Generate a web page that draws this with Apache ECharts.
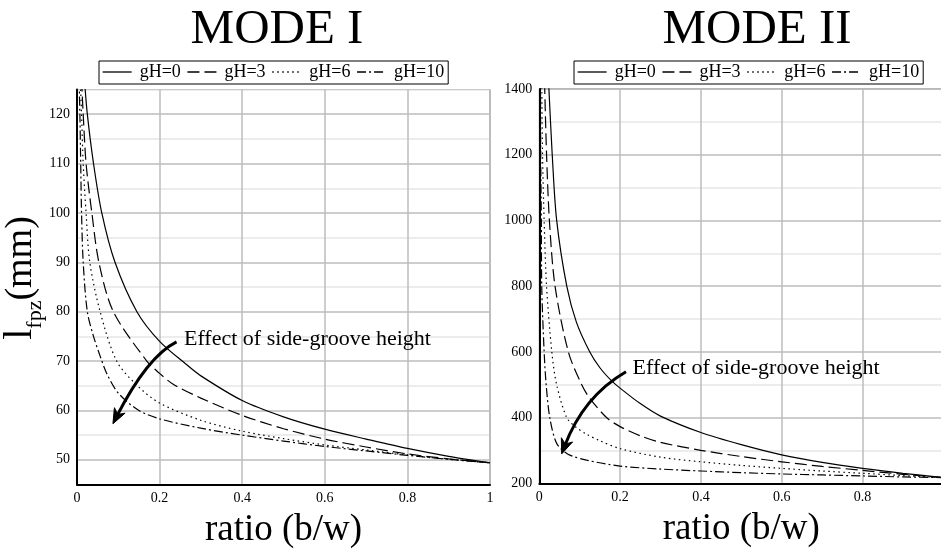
<!DOCTYPE html>
<html><head><meta charset="utf-8">
<script src="https://cdn.jsdelivr.net/npm/echarts@6/dist/echarts.min.js"></script>
<style>html,body{margin:0;padding:0;background:#fff}#c{width:941px;height:550px}</style>
</head><body><div id="c"></div>
<script>
// ---------- data ----------
const seriesNames = ['gH=0', 'gH=3', 'gH=6', 'gH=10'];
const panelTitles = ['MODE I', 'MODE II'];
const xAxisTitle = 'ratio (b/w)';
const annotationText = 'Effect of side-groove height';

// MODE I
const m1x_gH0 = [0.018,0.025,0.04,0.06,0.092,0.145,0.2,0.265,0.3,0.4,0.5,0.6,0.7,0.8,0.9,1.0];
const m1y_gH0 = [127,120,110,100,90,80,74.0,69.3,67.0,62.0,58.7,56.2,54.2,52.3,50.7,49.4];
const m1x_gH3 = [0.011,0.015,0.022,0.036,0.053,0.088,0.169,0.2,0.233,0.3,0.4,0.5,0.6,0.7,0.8,0.9,1.0];
const m1y_gH3 = [127,120,110,100,90,80,70,67.5,65.3,62.5,59.0,56.3,54.2,52.6,51.2,50.2,49.4];
const m1x_gH6 = [0.008,0.011,0.015,0.022,0.031,0.056,0.096,0.145,0.2,0.3,0.4,0.5,0.6,0.7,0.8,0.9,1.0];
const m1y_gH6 = [127,120,110,100,90,80,70,65.1,61.5,58.0,55.8,54.3,53.0,52.0,51.0,50.1,49.4];
const m1x_gH10 = [0.005,0.007,0.009,0.011,0.015,0.025,0.04,0.056,0.072,0.1,0.15,0.2,0.3,0.4,0.5,0.6,0.7,0.8,0.9,1.0];
const m1y_gH10 = [127,120,110,100,90,80,75,71,67.5,63.5,60.0,58.3,56.4,55.0,53.8,52.7,51.8,50.9,50.1,49.4];

// MODE II
const m2x_gH0 = [0.023,0.032,0.043,0.068,0.092,0.125,0.15,0.179,0.2,0.25,0.3,0.4,0.5,0.6,0.7,0.8,0.9,1.0];
const m2y_gH0 = [1420,1200,1000,800,690,600,552,512,490,443,405,355,318,287,264,246,231,218];
const m2x_gH3 = [0.013,0.018,0.025,0.039,0.072,0.105,0.125,0.167,0.2,0.25,0.3,0.4,0.5,0.6,0.7,0.8,0.9,1.0];
const m2y_gH3 = [1420,1200,1000,800,600,500,459,400,373,345,325,301,282,266,252,240,228,218];
const m2x_gH6 = [0.006,0.008,0.012,0.018,0.031,0.043,0.068,0.09,0.117,0.15,0.2,0.3,0.4,0.5,0.6,0.7,0.8,0.9,1.0];
const m2y_gH6 = [1420,1200,1000,800,600,500,400,372,350,330,306,280,266,255,246,238,231,224,218];
const m2x_gH10 = [0.003,0.0035,0.005,0.006,0.012,0.017,0.026,0.043,0.07,0.117,0.2,0.3,0.4,0.5,0.6,0.7,0.8,0.9,1.0];
const m2y_gH10 = [1420,1200,1000,800,600,500,400,322,290,271,253,244,238,233,229,226,223,220,218];

// annotation anchors in data units: [textStart, arrowStart, control, arrowTip]
const m1Arrow = [[0.259, 74.4], [0.241, 73.9], [0.170, 70.9], [0.087, 57.3]];
const m2Arrow = [[0.231, 550], [0.2146, 540], [0.109, 465], [0.0554, 290]];

// ---------- build ----------
const FONT = '"Liberation Serif", "DejaVu Serif", serif';
const zip = (xs, ys) => xs.map((x, i) => [x, ys[i]]);
const modeData = [
  [zip(m1x_gH0, m1y_gH0), zip(m1x_gH3, m1y_gH3), zip(m1x_gH6, m1y_gH6), zip(m1x_gH10, m1y_gH10)],
  [zip(m2x_gH0, m2y_gH0), zip(m2x_gH3, m2y_gH3), zip(m2x_gH6, m2y_gH6), zip(m2x_gH10, m2y_gH10)]
];
const dashTypes = ['solid', [12, 5], [1.5, 3.5], [9, 3, 2, 3]];

const chart = echarts.init(document.getElementById('c'), null, {renderer: 'canvas'});

const series = [];
modeData.forEach((sets, g) => {
  sets.forEach((d, k) => {
    series.push({
      name: seriesNames[k], type: 'line', xAxisIndex: g, yAxisIndex: g,
      data: d, showSymbol: false, symbol: 'none', smooth: 0.3,
      clip: true, silent: true, emphasis: {disabled: true},
      itemStyle: {color: '#000'},
      lineStyle: {color: '#000', width: 1.2, type: dashTypes[k], cap: 'butt'}
    });
  });
});

const axisLabelStyle = {fontFamily: FONT, fontSize: 14, color: '#000'};
const xLabelFmt = v => (v === 0 ? '0' : (Math.abs(v - 1) < 1e-9 ? '1' : v.toFixed(1)));

function xAxisCfg(g) {
  return {
    type: 'value', gridIndex: g, min: 0, max: 1, interval: 0.2,
    name: xAxisTitle, nameLocation: 'middle', nameGap: 27,
    nameTextStyle: {fontFamily: FONT, fontSize: 37, color: '#000'},
    axisLine: {show: true, onZero: false, lineStyle: {color: '#000', width: 2}},
    axisTick: {show: false},
    axisLabel: {...axisLabelStyle, margin: 7, formatter: xLabelFmt, showMaxLabel: g === 0},
    splitLine: {show: true, lineStyle: {color: '#bdbdbd', width: 1.5}}
  };
}

const legendCfg = left => ({
  data: seriesNames, left: left, top: 61, orient: 'horizontal',
  borderColor: '#000', borderWidth: 1, padding: [2, 4, 3, 3],
  itemGap: 6, itemWidth: 29, itemHeight: 14, selectedMode: false,
  itemStyle: {opacity: 0},
  lineStyle: {color: '#000', width: 1.3},
  textStyle: {fontFamily: FONT, fontSize: 18, color: '#000', padding: [0, 0, 0, 3]}
});

const gridBase = {show: true, borderColor: '#777', borderWidth: 1, containLabel: false, outerBoundsMode: 'none'};

chart.setOption({
  animation: false,
  backgroundColor: '#fff',
  color: ['#000'],
  grid: [
    {...gridBase, left: 77, top: 89.5, width: 413, height: 395},
    {...gridBase, left: 539.3, top: 88.9, width: 404, height: 394.6}
  ],
  legend: [legendCfg(99), legendCfg(574)],
  xAxis: [xAxisCfg(0), xAxisCfg(1)],
  yAxis: [
    {
      type: 'value', gridIndex: 0, min: 45, max: 125, interval: 5,
      axisLine: {show: true, lineStyle: {color: '#000', width: 2}},
      axisTick: {show: false},
      axisLabel: {...axisLabelStyle, margin: 7, formatter: v => (v % 10 === 0 ? String(v) : '')},
      splitLine: {show: true, lineStyle: {color: ['#e6e6e6', '#bdbdbd'], width: 1.5}}
    },
    {
      type: 'value', gridIndex: 1, min: 200, max: 1400, interval: 100,
      axisLine: {show: true, lineStyle: {color: '#000', width: 2}},
      axisTick: {show: false},
      axisLabel: {...axisLabelStyle, margin: 7, formatter: v => (v % 200 === 0 ? String(v) : '')},
      splitLine: {show: true, lineStyle: {color: ['#bdbdbd', '#e6e6e6'], width: 1.5}}
    }
  ],
  series: series
});

// ---------- annotations (positions derived from data coordinates) ----------
function arrowGraphics(g, pts) {
  const P = pts.map(p => chart.convertToPixel({gridIndex: g}, p));
  const [T, S, C, E] = P;
  const dx = E[0] - C[0], dy = E[1] - C[1];
  const len = Math.hypot(dx, dy), ux = dx / len, uy = dy / len;
  const headLen = 15, headW = 6;
  const bx = E[0] - ux * headLen, by = E[1] - uy * headLen;
  const nx = -uy, ny = ux;
  const notch = [E[0] - ux * headLen * 0.7, E[1] - uy * headLen * 0.7];
  const endX = E[0] - ux * 8, endY = E[1] - uy * 8;
  return [
    {type: 'text', silent: true, style: {text: annotationText, x: T[0], y: T[1], align: 'left', verticalAlign: 'middle',
      font: '22px ' + FONT, fill: '#000'}},
    {type: 'bezierCurve', silent: true, shape: {x1: S[0], y1: S[1], cpx1: C[0], cpy1: C[1], x2: endX, y2: endY},
      style: {stroke: '#000', lineWidth: 3, fill: null}},
    {type: 'polygon', silent: true, shape: {points: [
      E, [bx + nx * headW, by + ny * headW], notch, [bx - nx * headW, by - ny * headW]
    ]}, style: {fill: '#000', stroke: '#000', lineWidth: 1}}
  ];
}

const graphics = [
  {type: 'text', silent: true, style: {text: panelTitles[0], x: 277, y: 30, align: 'center', verticalAlign: 'middle',
    font: '49px ' + FONT, fill: '#000'}},
  {type: 'text', silent: true, style: {text: panelTitles[1], x: 757, y: 30, align: 'center', verticalAlign: 'middle',
    font: '49px ' + FONT, fill: '#000'}},
  {type: 'text', silent: true, x: 26, y: 278, rotation: Math.PI / 2,
    style: {text: '{l|l}{s|fpz}{m|(mm)}', align: 'center', verticalAlign: 'middle',
      rich: {
        l: {fontFamily: FONT, fontSize: 40, lineHeight: 40, verticalAlign: 'bottom', padding: [0, 0, 6, 0], fill: '#000'},
        s: {fontFamily: FONT, fontSize: 22, lineHeight: 22, verticalAlign: 'bottom', fill: '#000'},
        m: {fontFamily: FONT, fontSize: 38, lineHeight: 40, verticalAlign: 'bottom', padding: [0, 0, 6, 0], fill: '#000'}
      }}}
].concat(arrowGraphics(0, m1Arrow), arrowGraphics(1, m2Arrow));

chart.setOption({graphic: graphics});
</script>
</body></html>
